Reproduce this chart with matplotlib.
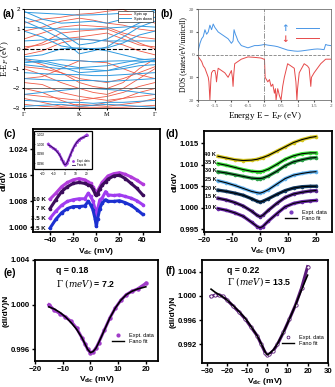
import matplotlib.pyplot as plt
from matplotlib.patches import Rectangle

# ---------------- data ----------------
# (a) band structure, k-path G-K-M-G
k_pts = [0, 0.33, 0.67, 1.0, 1.25, 1.5, 1.79, 2.08, 2.366]
bands_dn = [
    [1.85, 1.80, 1.75, 1.70, 1.72, 1.75, 1.80, 1.85, 1.85],
    [1.60, 1.30, 0.80, 0.20, 0.30, 0.50, 0.90, 1.30, 1.60],
    [1.40, 1.00, 0.50, -0.25, -0.10, 0.10, 0.60, 1.10, 1.40],
    [0.40, 0.45, 0.50, 0.50, 0.45, 0.40, 0.40, 0.40, 0.40],
    [-0.50, -0.60, -0.80, -0.95, -0.90, -0.85, -0.70, -0.55, -0.50],
    [-0.60, -0.70, -0.90, -1.20, -1.15, -1.10, -0.90, -0.70, -0.60],
    [-0.80, -0.90, -1.00, -1.00, -1.05, -1.10, -1.00, -0.85, -0.80],
    [-1.20, -1.25, -1.30, -1.30, -1.35, -1.35, -1.30, -1.25, -1.20],
    [-1.50, -1.55, -1.60, -1.60, -1.60, -1.65, -1.60, -1.55, -1.50],
    [-2.30, -2.20, -2.10, -2.00, -2.00, -2.05, -2.10, -2.20, -2.30],
    [-2.60, -2.65, -2.70, -2.70, -2.75, -2.70, -2.70, -2.65, -2.60],
    [-2.90, -2.85, -2.80, -2.90, -2.85, -2.80, -2.85, -2.90, -2.95],
    [1.10, 1.05, 1.00, 1.00, 1.00, 1.05, 1.10, 1.15, 1.10],
    [0.90, 0.60, 0.15, 0.00, 0.02, 0.05, 0.30, 0.70, 0.90],
    [-0.40, -0.30, 0.00, 0.05, 0.00, -0.10, -0.30, -0.50, -0.60],
    [1.90, 1.50, 1.30, 1.35, 1.40, 1.30, 1.50, 1.70, 1.95],
    [-0.70, -0.62, -0.55, -0.60, -0.65, -0.62, -0.60, -0.62, -0.65],
]
bands_up = [
    [1.30, 1.50, 1.60, 1.75, 1.80, 1.90, 2.00, 1.60, 1.30],
    [0.90, 1.10, 1.40, 1.55, 1.45, 1.30, 1.20, 1.00, 0.90],
    [0.50, 0.80, 1.10, 1.20, 1.15, 1.10, 0.80, 0.60, 0.50],
    [0.10, 0.20, 0.50, 0.60, 0.70, 0.80, 0.50, 0.20, 0.10],
    [-0.30, -0.10, 0.30, 0.50, 0.45, 0.40, 0.20, -0.10, -0.30],
    [-0.90, -1.00, -1.20, -1.50, -1.60, -1.70, -1.50, -1.20, -0.90],
    [-0.50, -0.80, -1.20, -1.70, -1.90, -2.00, -1.70, -1.00, -0.50],
    [-1.00, -1.30, -1.70, -2.00, -2.20, -2.30, -2.00, -1.50, -1.00],
    [-1.70, -1.80, -2.20, -2.40, -2.50, -2.40, -2.20, -1.90, -1.70],
    [-2.30, -2.40, -2.50, -2.60, -2.50, -2.60, -2.50, -2.40, -2.30],
    [-2.50, -2.70, -2.90, -2.80, -2.85, -2.90, -2.80, -2.70, -2.50],
    [-2.80, -2.90, -2.95, -2.95, -2.95, -2.95, -2.95, -2.90, -2.85],
    [0.00, 0.30, 0.80, 0.90, 0.95, 1.00, 0.70, 0.30, 0.00],
    [-1.50, -1.40, -1.00, -0.60, -0.65, -0.70, -1.00, -1.30, -1.50],
    [-2.00, -2.20, -2.60, -2.90, -2.85, -2.70, -2.50, -2.20, -2.00],
]
k_labels = ['Γ', 'K', 'M', 'Γ']
k_ticks = [0, 1.0, 1.5, 2.366]

# (b) DOS
e_up = [-2.0, -1.95, -1.9, -1.85, -1.8, -1.75, -1.7, -1.65, -1.6, -1.55, -1.5, -1.45, -1.4,
        -1.3, -1.2, -1.1, -1.0, -0.95, -0.92, -0.88, -0.85, -0.8, -0.7, -0.6, -0.5, -0.4,
        -0.3, -0.2, -0.1, 0.0, 0.1, 0.2, 0.3, 0.4, 0.5, 0.6, 0.7, 0.8, 0.9, 1.0, 1.1, 1.2,
        1.3, 1.4, 1.5, 1.6, 1.7, 1.8, 1.85, 1.9, 2.0]
dos_up = [2, 5, 7, 8, 11, 9, 10, 13, 11, 13.5, 12, 11, 10,
          9, 8, 7, 5, 6, 11, 9, 8, 6, 4, 3.5, 3, 3.5,
          4, 4, 4.2, 4.5, 4.2, 4, 3.8, 3.5, 3, 2.5, 2, 1.8, 1.6, 1.5, 1.6, 1.8,
          2, 2.2, 2.4, 2.5, 2.4, 2.2, 4.5, 4.2, 4]
e_dn = [-2.0, -1.95, -1.9, -1.85, -1.8, -1.75, -1.7, -1.68, -1.65, -1.62, -1.6, -1.55, -1.5,
        -1.47, -1.45, -1.42, -1.4, -1.3, -1.2, -1.1, -1.0, -0.97, -0.95, -0.93, -0.9, -0.8,
        -0.7, -0.5, -0.3, -0.1, -0.02, 0.0, 0.02, 0.1, 0.15, 0.2, 0.25, 0.3, 0.33, 0.35,
        0.4, 0.45, 0.5, 0.55, 0.6, 0.7, 0.8, 0.9, 0.95, 0.98, 1.0, 1.05, 1.2, 1.3, 1.35,
        1.4, 1.42, 1.5, 1.6, 1.7, 1.85, 2.0]
dos_dn = [-1, -2, -3, -5, -6, -8, -10, -12, -20, -11, -8, -7, -7,
          -9, -12, -8, -6, -7, -8, -10, -7, -10, -14, -9, -4, -3,
          -2, -1, -1.2, -1.5, -2, -2, -10, -12, -11, -14, -13, -17, -15, -20,
          -15, -18, -20, -14, -10, -4, -5, -6, -12, -20, -15, -8, -4, -5, -6,
          -14, -10, -8, -6, -4, -2, -2]

# (c) dI/dV at low T
vc = [-40, -35, -30, -25, -20, -15, -10, -7, -5, -3, -1, 0, 1, 3, 5, 8, 10, 15, 20, 25, 30, 35, 40]
c_10K = [1.0087, 1.0105, 1.0125, 1.0138, 1.0146, 1.0150, 1.0146, 1.0140, 1.0135, 1.0125, 1.0112, 1.0108,
         1.0112, 1.0125, 1.0138, 1.0150, 1.0158, 1.0165, 1.0168, 1.0163, 1.0155, 1.0145, 1.0133]
c_7K = [1.0058, 1.0085, 1.0110, 1.0125, 1.0135, 1.0138, 1.0135, 1.0130, 1.0128, 1.0118, 1.0103, 1.0098,
        1.0103, 1.0118, 1.0130, 1.0140, 1.0148, 1.0158, 1.0160, 1.0150, 1.0135, 1.0120, 1.0100]
c_3p5K = [1.0028, 1.0050, 1.0068, 1.0080, 1.0085, 1.0088, 1.0088, 1.0105, 1.0095, 1.0082, 1.0055, 1.0035,
          1.0055, 1.0085, 1.0090, 1.0110, 1.0100, 1.0098, 1.0100, 1.0095, 1.0090, 1.0082, 1.0070]
c_2p5K = [0.9998, 1.0025, 1.0045, 1.0058, 1.0064, 1.0064, 1.0066, 1.0080, 1.0070, 1.0055, 1.0025, 1.0003,
          1.0025, 1.0058, 1.0075, 1.0085, 1.0080, 1.0080, 1.0082, 1.0076, 1.0068, 1.0055, 1.0040]
c_labels = ['10 K', '7 K', '3.5 K', '2.5 K']
c_colors = ['#b23cdc', '#3c0c5c', '#a03cf0', '#1c30d0']

# (d) dI/dV at higher T with Fano fits
vd = [-15, -12, -9, -6, -3, -1, 0, 1, 3, 6, 9, 12, 15, 18, 20]
d_40K = [1.0120, 1.0116, 1.0112, 1.0110, 1.0111, 1.0113, 1.0115, 1.0117, 1.0122, 1.0132, 1.0142, 1.0152, 1.0159, 1.0164, 1.0166]
d_35K = [1.0103, 1.0099, 1.0094, 1.0089, 1.0085, 1.0084, 1.0084, 1.0085, 1.0090, 1.0101, 1.0113, 1.0121, 1.0126, 1.0128, 1.0128]
d_30K = [1.0084, 1.0081, 1.0077, 1.0073, 1.0069, 1.0068, 1.0068, 1.0069, 1.0074, 1.0085, 1.0098, 1.0107, 1.0112, 1.0116, 1.0117]
d_25K = [1.0063, 1.0058, 1.0052, 1.0045, 1.0038, 1.0035, 1.0034, 1.0036, 1.0042, 1.0055, 1.0068, 1.0076, 1.0080, 1.0083, 1.0084]
d_20K = [1.0041, 1.0038, 1.0034, 1.0029, 1.0021, 1.0015, 1.0013, 1.0015, 1.0021, 1.0031, 1.0040, 1.0046, 1.0049, 1.0050, 1.0050]
d_15K = [1.0022, 1.0018, 1.0012, 1.0004, 0.9992, 0.9982, 0.9979, 0.9982, 0.9994, 1.0010, 1.0024, 1.0032, 1.0036, 1.0039, 1.0040]
d_10K = [0.9998, 0.9994, 0.9988, 0.9980, 0.9966, 0.9956, 0.9953, 0.9956, 0.9969, 0.9986, 1.0002, 1.0010, 1.0014, 1.0016, 1.0017]
d_labels = ['40 K', '35 K', '30 K', '25 K', '20 K', '15 K', '10 K']
d_colors = ['#d6c620', '#3ce03c', '#2ca048', '#64b4f0', '#143c64', '#5a2890', '#6a28a8']

# (e) normalized, q = 0.18
ve = [-15, -13, -11, -9, -7, -5, -3, -2, -1, 0, 1, 2, 3, 5, 7, 9, 11, 13, 15, 17, 20]
e_data = [1.0000, 0.9995, 0.9992, 0.9989, 0.9985, 0.9979, 0.9970, 0.9965, 0.9960, 0.9957, 0.9958,
          0.9961, 0.9966, 0.9977, 0.9988, 0.9997, 1.0004, 1.0009, 1.0012, 1.0014, 1.0019]
e_fit = [0.9998, 0.9996, 0.9993, 0.9989, 0.9984, 0.9978, 0.9970, 0.9965, 0.9960, 0.9957, 0.9958,
         0.9961, 0.9966, 0.9977, 0.9988, 0.9997, 1.0004, 1.0009, 1.0012, 1.0014, 1.0016]

# (f) normalized, q = 0.22
vf = [-28, -26, -24, -22, -20, -17, -14, -11, -8, -5, -3, -1, 0, 1, 3, 5, 8, 11, 14, 17, 20]
f_data = [0.9999, 1.0001, 1.0001, 0.9999, 0.9993, 0.9983, 0.9973, 0.9962, 0.9948, 0.9934, 0.9920,
          0.9906, 0.9902, 0.9904, 0.9910, 0.9920, 0.9940, 0.9962, 0.9985, 1.0013, 1.0048]
f_fit = [1.0011, 1.0006, 1.0002, 0.9998, 0.9993, 0.9984, 0.9974, 0.9963, 0.9949, 0.9934, 0.9921,
         0.9907, 0.9903, 0.9905, 0.9911, 0.9921, 0.9940, 0.9962, 0.9985, 1.0010, 1.0034]

# ---------------- figure ----------------
plt.rcParams['font.family'] = ['Liberation Sans', 'DejaVu Sans']
plt.rcParams['mathtext.fontset'] = 'dejavuserif'
fig = plt.figure(figsize=(3.35, 3.87), dpi=100)
serif = ['Liberation Serif', 'DejaVu Serif']
vdc = 'V$_{\\mathbf{dc}}$ (mV)'

def style_exp(ax):
    for s in ax.spines.values():
        s.set_linewidth(1.3)
    ax.tick_params(direction='out', length=2.5, width=1, labelsize=5.6, pad=1.2)
    for lab in ax.get_xticklabels() + ax.get_yticklabels():
        lab.set_fontweight('bold')

# (a)
ax = fig.add_axes([0.0716, 0.7202, 0.391, 0.2558])
for b in bands_up:
    ax.plot(k_pts, b, color='#f05a46', lw=0.6)
for b in bands_dn:
    ax.plot(k_pts, b, color='#2e9ae0', lw=0.7)
ax.plot([], [], color='#f05a46', lw=0.6, label='Spin up')
ax.plot([], [], color='#2e9ae0', lw=0.7, label='Spin down')
for kk in k_ticks[1:3]:
    ax.axvline(kk, color='gray', lw=0.6)
ax.axhline(0, color='black', ls='--', lw=0.8)
ax.axhline(-2, color='#555555', lw=0.6)
ax.set_xlim(0, 2.366)
ax.set_ylim(-3, 2)
ax.set_xticks(k_ticks)
ax.set_xticklabels(k_labels, family=serif, fontsize=5)
ax.set_yticks([-3, -2, -1, 0, 1, 2])
ax.tick_params(labelsize=4.5, length=1.5, pad=1.5)
ax.set_ylabel('E-E$_F$ (eV)', family=serif, fontsize=6, labelpad=1)
ax.legend(loc='upper right', fontsize=2.8, handlelength=3, frameon=True, fancybox=False,
          edgecolor='black', borderpad=0.3, labelspacing=0.1, framealpha=1).get_frame().set_linewidth(0.4)
for s in ax.spines.values():
    s.set_linewidth(0.6)
fig.text(0.006, 0.955, '(a)', fontsize=7, fontweight='bold')

# (b)
ax = fig.add_axes([0.592, 0.7416, 0.395, 0.2344])
ax.plot(e_up, dos_up, color='#4a96e6', lw=0.7, label='↑')
ax.plot(e_dn, dos_dn, color='#e64a4a', lw=0.7, label='↓')
ax.axvline(0, color='gray', ls='-.', lw=0.6)
ax.axhline(0, color='gray', ls='--', lw=0.6)
ax.set_xlim(-2, 2)
ax.set_ylim(-20, 20)
ax.set_xticks([-2, -1.5, -1, -0.5, 0, 0.5, 1, 1.5, 2])
ax.set_xticklabels(['-2', '-1.5', '-1', '-0.5', '0', '0.5', '1', '1.5', '2'], family=serif)
ax.set_yticks([-20, -10, 0, 10, 20])
ax.set_yticklabels(['20', '10', '0', '10', '20'], family=serif)
ax.tick_params(labelsize=3.8, length=1.5, pad=1.5, colors='#555555')
ax.set_xlabel('Energy E − E$_F$ (eV)', family=serif, fontsize=6.5, labelpad=1)
ax.set_ylabel('DOS (states/eV/unitcell)', family=serif, fontsize=5.5, labelpad=1)
leg = ax.legend(loc='upper right', bbox_to_anchor=(0.97, 0.93), fontsize=6.5, frameon=False,
                markerfirst=False, handlelength=2.5, labelspacing=0.2, labelcolor='linecolor',
                prop={'family': 'DejaVu Sans', 'weight': 'bold', 'size': 6.5})
for s in ax.spines.values():
    s.set_linewidth(0.5)
    s.set_color('#555555')
fig.text(0.478, 0.955, '(b)', fontsize=7, fontweight='bold')

# (c)
ax = fig.add_axes([0.0976, 0.4005, 0.38, 0.2662])
for vals, col, lab in zip([c_10K, c_7K, c_3p5K, c_2p5K], c_colors, c_labels):
    ax.plot(vc, vals, color=col, lw=2.2, marker='o', ms=1.6)
    ax.text(-44, vals[0], lab, fontsize=4.4, fontweight='bold', ha='right', va='center')
ax.set_xlim(-55, 55)
ax.set_ylim(0.9986, 1.0302)
ax.set_xticks([-40, -20, 0, 20, 40])
ax.set_yticks([1.000, 1.008, 1.016, 1.024])
ax.set_xlabel(vdc, fontsize=6, fontweight='bold', labelpad=1)
ax.set_ylabel('dI/dV', fontsize=6, fontweight='bold', labelpad=0.5)
style_exp(ax)
fig.text(0.01, 0.645, '(c)', fontsize=7.5, fontweight='bold')

# inset of (c)
fig.patches.append(Rectangle((0.1015, 0.5625), 0.174, 0.099, transform=fig.transFigure,
                             facecolor='white', edgecolor='black', lw=0.9, zorder=3))
axi = fig.add_axes([0.1015, 0.5625, 0.174, 0.099])
axi.set_zorder(4)
axi.patch.set_alpha(0)
axi.plot(ve, e_data, color='#a040e0', lw=1.8, marker='o', ms=1)
axi.plot(ve, e_fit, color='#2a0a50', lw=0.6)
axi.set_xlim(-28, 25)
axi.set_ylim(0.99476, 1.0027)
axi.set_xticks([-20, -10, 0, 10, 20])
axi.set_yticks([0.996, 0.998, 1.000, 1.002])
axi.set_yticklabels(['0.996', '0.998', '1.000', '1.002'])
axi.tick_params(labelsize=2.3, length=1, pad=0.8, width=0.4)
axi.tick_params(axis='y', direction='in', pad=-2)
for lab in axi.get_yticklabels():
    lab.set_horizontalalignment('left')
axi.plot([], [], 'o', color='#a040e0', ms=1, label='Expt. data')
axi.plot([], [], color='#2a0a50', lw=0.6, label='Fano fit')
axi.legend(loc='lower right', fontsize=2, frameon=False, handlelength=1.2, labelspacing=0.1)
for s in axi.spines.values():
    s.set_visible(False)

# (d)
ax = fig.add_axes([0.609, 0.4013, 0.381, 0.2602])
for vals, col, lab in zip([d_40K, d_35K, d_30K, d_25K, d_20K, d_15K, d_10K], d_colors, d_labels):
    ax.plot(vd, vals, color=col, lw=2.4, marker='o', ms=1.6)
    ax.plot(vd, vals, color='black', lw=0.8)
    ax.text(-15.6, vals[0] + 0.0003, lab, fontsize=4, fontweight='bold', ha='right', va='center')
ax.plot([], [], 'o', color='#7a3cc0', ms=2, label='Expt. data')
ax.plot([], [], color='black', lw=1, label='Fano fit')
ax.legend(loc='lower right', bbox_to_anchor=(1.0, 0.06), fontsize=4, frameon=False,
          handlelength=2.2, labelspacing=0.2)
ax.set_xlim(-20, 25.6)
ax.set_ylim(0.9944, 1.0179)
ax.set_xticks([-20, -10, 0, 10, 20])
ax.set_yticks([0.995, 1.000, 1.005, 1.010, 1.015])
ax.set_xlabel(vdc, fontsize=6, fontweight='bold', labelpad=1)
ax.set_ylabel('dI/dV', fontsize=6, fontweight='bold', labelpad=0.5)
style_exp(ax)
fig.text(0.494, 0.645, '(d)', fontsize=7.5, fontweight='bold')

# (e)
ax = fig.add_axes([0.1045, 0.0672, 0.368, 0.261])
ax.plot(ve, e_data, color='#a03cc8', lw=0, marker='o', ms=2.2)
ax.plot(ve, e_data, color='#a03cc8', lw=2.2)
ax.plot(ve, e_fit, color='black', lw=1.2)
ax.plot([], [], 'o', color='#a03cc8', ms=2, label='Expt. data')
ax.plot([], [], color='black', lw=1, label='Fano fit')
ax.legend(loc='lower right', bbox_to_anchor=(1.0, 0.12), fontsize=4, frameon=False,
          handlelength=2.2, labelspacing=0.2)
ax.set_xlim(-20, 24.5)
ax.set_ylim(0.99495, 1.004)
ax.set_xticks([-20, -10, 0, 10, 20])
ax.set_yticks([0.996, 1.000, 1.004])
ax.set_xlabel(vdc, fontsize=6, fontweight='bold', labelpad=0.5)
ax.set_ylabel('(dI/dV)N', fontsize=6, fontweight='bold', labelpad=0.5)
ax.text(0.17, 0.87, 'q = 0.18', transform=ax.transAxes, fontsize=6.3, fontweight='bold')
ax.text(0.17, 0.74, r'$\mathbf{\mathit{\Gamma\ (meV)}}$ = 7.2', transform=ax.transAxes,
        fontsize=6.3, fontweight='bold')
style_exp(ax)
fig.text(0.01, 0.288, '(e)', fontsize=7.5, fontweight='bold')

# (f)
ax = fig.add_axes([0.603, 0.0612, 0.377, 0.267])
ax.plot(vf, f_data, color='#5a1a78', lw=2.2)
ax.plot(vf, f_data, color='#5a1a78', lw=0, marker='o', ms=2.4, mfc='white', mew=0.6)
ax.plot(vf, f_fit, color='black', lw=1.2)
ax.plot([], [], 'o', color='#5a1a78', ms=2, mfc='white', mew=0.6, label='Expt. data')
ax.plot([], [], color='black', lw=1, label='Fano fit')
ax.legend(loc='lower right', bbox_to_anchor=(1.0, 0.12), fontsize=4, frameon=False,
          handlelength=2.2, labelspacing=0.2)
ax.set_xlim(-32.5, 30.3)
ax.set_ylim(0.9889, 1.0059)
ax.set_xticks([-30, -20, -10, 0, 10, 20, 30])
ax.set_yticks([0.992, 0.996, 1.000, 1.004])
ax.set_xlabel(vdc, fontsize=6, fontweight='bold', labelpad=0.5)
ax.set_ylabel('(dI/dV)N', fontsize=6, fontweight='bold', labelpad=0.5)
ax.text(0.2, 0.87, 'q = 0.22', transform=ax.transAxes, fontsize=6.3, fontweight='bold')
ax.text(0.2, 0.76, r'$\mathbf{\mathit{\Gamma\ (meV)}}$ = 13.5', transform=ax.transAxes,
        fontsize=6.3, fontweight='bold')
style_exp(ax)
fig.text(0.494, 0.293, '(f)', fontsize=7.5, fontweight='bold')

fig.savefig('out.png', dpi=100)
